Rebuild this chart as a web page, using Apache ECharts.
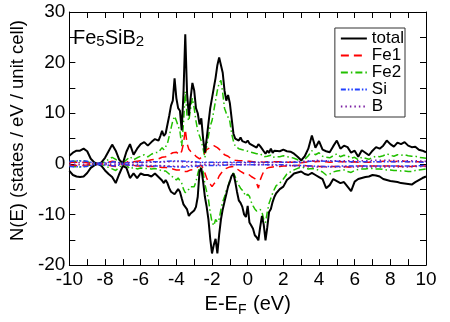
<!DOCTYPE html>
<html lang="en">
  <head>
    <meta charset="UTF-8" />
    <title>Fe5SiB2 DOS</title>
    <script src="https://cdn.jsdelivr.net/npm/echarts@6.0.0/dist/echarts.min.js"></script>
    <style>
      body { margin: 0; background: #fff; }
    </style>
  </head>
  <body>
    <div id="main" style="width: 450px; height: 322px"></div>
    <script>
      // energy grid (eV): 0.2 step outside, 0.1 step in the d-band region
      var energy = [];
      for (let i = 0; i <= 24; i++) energy.push(+(-10 + i * 0.2).toFixed(1));
      for (let i = 0; i <= 66; i++) energy.push(+(-5 + i * 0.1).toFixed(1));
      for (let i = 0; i <= 41; i++) energy.push(+(1.8 + i * 0.2).toFixed(1));

      // coarse grid for the small Si / B contributions
      var energyCoarse = [];
      for (let i = 0; i <= 40; i++) energyCoarse.push(-10 + i * 0.5);

      var totalUp = [
        1.6, 2.2, 2.6, 2.6, 3.0, 2.5, 1.0, 0.3, 0.0, 0.3, 1.2, 2.5, 3.8, 2.6, 0.8, 0.1, 2.4, 3.9, 1.8, 3.0, 3.9, 4.3, 3.6, 4.3, 4.9,
        4.6, 5.5, 6.5, 5.5, 6.0, 5.9, 9.5, 11.5, 12.5, 16.9,
        13, 11, 10.5, 6.6, 14, 25.6, 14, 9.5, 13, 16,
        14.5, 11, 10, 7.8, 9, 5, 2.2, 5, 8, 11,
        13, 15, 17, 19.5, 21, 21.3, 18, 14.5, 12.5, 13.6,
        12, 9, 6, 5, 5.2, 4.6, 5.2, 4.5, 4.8, 4.2,
        4.6, 4.0, 4.3, 3.6, 3.9, 3.2, 3.9, 3.5, 3.0, 2.5,
        2.0, 2.6, 2.2, 3.0, 2.2, 2.6, 2.4,
        2.5, 2.8, 2.5, 2.4, 2.0, 1.4, 0.7, 1.5, 3.0, 5.6,
        3.2, 4.5, 2.8, 2.5, 2.3, 3.5, 4.6, 3.0, 3.6, 3.3,
        2.2, 2.6, 1.4, 2.7, 2.2, 1.7, 2.6, 3.3, 3.0, 3.6,
        4.6, 3.9, 3.4, 4.2, 3.9, 4.3, 3.6, 3.3, 3.4, 2.8,
        2.6, 2.3
      ];
      var totalDown = [
        -1.4, -2.2, -2.5, -2.6, -2.5, -1.8, -0.8, -0.3, 0, -0.4, -1.3, -2.0, -2.6, -3.8, -2.0, -0.4, -0.8, -2.8, -1.9, -2.8, -1.9, -2.2, -2.2, -2.5, -1.9,
        -2.6, -2.8, -3.3, -3.8, -3.2, -3.8, -4.8, -5.5, -5.2, -6.0,
        -5.8, -5.0, -5.5, -6.8, -8.0, -8.5, -9.0, -10.3, -9.8, -9.7,
        -9.2, -8.5, -6.5, -1.5, -0.8, -3.5, -6.5, -8.5, -11, -14.8,
        -17.7, -16, -14.8, -17.7, -14, -11, -9, -7.5, -6, -4.5,
        -3.5, -2.4, -1.9, -3.5, -5.5, -7.2, -7.7, -8.5, -10, -10.5,
        -8.3, -11.6, -12.2, -12.8, -14.1, -14.5, -15.1, -12.5, -10.3, -12,
        -15.1, -12.5, -9.5, -8.9, -7.5, -6.5, -5.8,
        -5.0, -4.5, -3.2, -2.6, -1.9, -1.7, -1.5, -2.0, -2.2, -1.8,
        -2.2, -2.6, -3.0, -4.8, -4.2, -3.0, -3.4, -3.8, -3.6, -4.5,
        -5.4, -3.5, -3.0, -2.8, -2.6, -2.5, -2.2, -2.3, -2.5, -3.0,
        -3.2, -3.4, -3.5, -3.6, -3.8, -3.9, -4.0, -4.1, -3.6, -3.2,
        -2.8, -2.5
      ];

      var fe1Up = [
        0.2, 0.3, 0.3, 0.3, 0.3, 0.2, 0.1, 0.05, 0, 0.05, 0.2, 0.3, 0.5, 0.4, 0.2, 0.05, 0.3, 0.6, 0.4, 0.5, 0.6, 0.7, 0.6, 0.8, 0.9,
        1.0, 1.1, 1.3, 1.2, 1.4, 1.5, 1.8, 2.0, 2.2, 2.5,
        2.3, 2.0, 1.8, 2.5, 4.0, 6.8, 4.0, 2.9, 2.5, 2.2,
        1.9, 1.5, 1.2, 1.0, 1.2, 1.5, 2.2, 2.8, 3.0, 3.2,
        3.4, 3.6, 3.5, 3.2, 3.0, 2.6, 2.2, 1.8, 1.5, 1.5,
        1.2, 0.9, 0.8, 0.7, 0.7, 0.6, 0.6, 0.6, 0.5, 0.5,
        0.6, 0.5, 0.5, 0.4, 0.5, 0.4, 0.5, 0.4, 0.4, 0.3,
        0.3, 0.4, 0.3, 0.4, 0.3, 0.4, 0.3,
        0.4, 0.4, 0.3, 0.3, 0.3, 0.2, 0.2, 0.3, 0.4, 0.6,
        0.4, 0.5, 0.4, 0.4, 0.3, 0.4, 0.5, 0.4, 0.4, 0.4,
        0.3, 0.4, 0.3, 0.4, 0.3, 0.3, 0.4, 0.4, 0.4, 0.5,
        0.5, 0.5, 0.4, 0.5, 0.5, 0.5, 0.4, 0.4, 0.4, 0.4,
        0.4, 0.3
      ];
      var fe1Down = [
        -0.2, -0.3, -0.3, -0.3, -0.3, -0.2, -0.1, -0.05, 0, -0.05, -0.2, -0.3, -0.4, -0.5, -0.3, -0.05, -0.2, -0.4, -0.3, -0.4, -0.4, -0.4, -0.5, -0.5, -0.5,
        -0.6, -0.6, -0.7, -0.8, -0.7, -0.8, -0.9, -1.0, -1.0, -1.1,
        -1.2, -1.1, -1.2, -1.3, -1.5, -1.6, -1.5, -1.4, -1.2, -1.2,
        -1.1, -0.9, -0.6, -0.3, -0.3, -0.8, -1.8, -2.8, -3.6, -4.0,
        -4.5, -4.0, -3.6, -3.2, -2.4, -1.9, -1.5, -1.2, -0.9, -0.7,
        -0.6, -0.5, -0.5, -0.7, -1.0, -1.3, -1.5, -1.7, -1.9, -2.0,
        -1.9, -2.2, -2.5, -2.8, -2.9, -3.8, -4.8, -3.2, -2.3, -1.5,
        -1.0, -0.8, -0.7, -0.6, -0.6, -0.5, -0.5,
        -0.5, -0.4, -0.4, -0.4, -0.3, -0.3, -0.2, -0.3, -0.4, -0.4,
        -0.4, -0.5, -0.5, -0.6, -0.5, -0.5, -0.5, -0.5, -0.5, -0.6,
        -0.6, -0.5, -0.4, -0.4, -0.4, -0.4, -0.4, -0.4, -0.4, -0.4,
        -0.4, -0.4, -0.4, -0.4, -0.5, -0.5, -0.5, -0.5, -0.4, -0.4,
        -0.4, -0.4
      ];

      var fe2Up = [
        0.3, 0.5, 0.5, 0.6, 0.6, 0.4, 0.2, 0.1, 0, 0.1, 0.4, 0.9, 1.3, 0.9, 0.3, 0.1, 0.8, 1.4, 0.8, 1.2, 1.5, 1.8, 1.4, 1.9, 2.2,
        2.3, 2.6, 3.2, 2.8, 3.4, 4.0, 5.5, 7.0, 8.5, 9.4,
        8.5, 7.5, 6.5, 3.5, 8, 14.3, 9.5, 8.5, 11, 13,
        11, 8.5, 6.5, 5.5, 4.5, 3, 1.2, 3.5, 5.5, 7.5,
        8.5, 10.5, 12.5, 14.5, 16, 16.5, 14, 11, 10, 10,
        8.4, 6, 4.5, 3.5, 3.3, 3.0, 3.0, 2.8, 2.9, 2.6,
        2.8, 2.4, 2.5, 2.2, 2.3, 2.0, 2.3, 2.0, 1.8, 1.4,
        1.2, 1.5, 1.3, 1.7, 1.3, 1.5, 1.4,
        1.4, 1.6, 1.4, 1.3, 1.1, 0.8, 0.6, 0.9, 1.6, 2.6,
        1.8, 2.2, 1.5, 1.3, 1.2, 1.6, 2.0, 1.4, 1.7, 1.6,
        1.1, 1.3, 0.8, 1.3, 1.1, 0.9, 1.3, 1.5, 1.4, 1.6,
        2.0, 1.7, 1.5, 1.8, 1.7, 1.8, 1.6, 1.5, 1.5, 1.3,
        1.2, 1.1
      ];
      var fe2Down = [
        -0.3, -0.5, -0.6, -0.6, -0.6, -0.4, -0.2, -0.1, 0, -0.1, -0.4, -0.7, -1.0, -1.3, -0.7, -0.1, -0.3, -1.0, -0.7, -1.0, -0.8, -0.9, -0.9, -1.0, -0.9,
        -1.1, -1.2, -1.4, -1.6, -1.4, -1.6, -2.0, -2.4, -2.4, -2.8,
        -3.2, -2.8, -3.0, -3.8, -5.0, -5.7, -5.5, -5.0, -4.5, -4.8,
        -4.5, -3.5, -2.0, -0.6, -0.3, -1.5, -4.0, -5.5, -7, -9.6,
        -11.5, -12.2, -11, -11.5, -10.9, -9, -7.5, -6.5, -5.2, -4.5,
        -3.2, -2.2, -1.8, -2.5, -3.5, -4.2, -4.8, -5.2, -5.8, -6.4,
        -6.0, -6.4, -7.5, -8.3, -8.9, -9.3, -9.6, -9.0, -9.5, -11.0,
        -11.6, -9.5, -7.8, -6.8, -5.8, -5.0, -4.3,
        -3.8, -3.0, -2.0, -1.6, -1.2, -0.9, -0.6, -0.8, -1.0, -0.9,
        -1.0, -1.3, -1.6, -2.2, -2.0, -1.6, -1.4, -1.3, -1.2, -1.5,
        -1.7, -1.3, -1.1, -1.0, -1.0, -0.9, -0.9, -1.0, -1.0, -1.1,
        -1.2, -1.2, -1.3, -1.3, -1.4, -1.4, -1.5, -1.5, -1.3, -1.2,
        -1.1, -1.0
      ];

      var siUp = [
        0.5, 0.6, 0.5, 0.1, 0.2, 0.4, 0.1, 0.3, 0.3, 0.4,
        0.4, 0.5, 0.6, 0.5, 0.4, 0.3, 0.3, 0.3, 0.3, 0.3,
        0.3, 0.3, 0.3, 0.3, 0.3, 0.3, 0.3, 0.5, 0.6, 0.5,
        0.5, 0.4, 0.4, 0.4, 0.4, 0.4, 0.4, 0.4, 0.4, 0.4,
        0.3
      ];
      var siDown = [
        -0.5, -0.6, -0.5, -0.1, -0.2, -0.4, -0.1, -0.3, -0.3, -0.4,
        -0.4, -0.5, -0.6, -0.6, -0.5, -0.3, -0.3, -0.3, -0.2, -0.2,
        -0.2, -0.2, -0.2, -0.2, -0.2, -0.3, -0.3, -0.4, -0.5, -0.5,
        -0.5, -0.4, -0.4, -0.4, -0.4, -0.4, -0.4, -0.4, -0.4, -0.4,
        -0.3
      ];
      var bUp = [
        0.2, 0.2, 0.2, 0.05, 0.1, 0.2, 0.05, 0.2, 0.2, 0.3,
        0.3, 0.4, 0.5, 0.4, 0.3, 0.2, 0.2, 0.2, 0.2, 0.2,
        0.2, 0.2, 0.2, 0.3, 0.3, 0.4, 0.5, 0.6, 0.7, 0.6,
        0.6, 0.6, 0.6, 0.6, 0.7, 0.7, 0.7, 0.6, 0.6, 0.6,
        0.5
      ];
      var bDown = [
        -0.2, -0.2, -0.2, -0.05, -0.1, -0.2, -0.05, -0.2, -0.2, -0.3,
        -0.3, -0.4, -0.5, -0.4, -0.3, -0.2, -0.2, -0.2, -0.2, -0.2,
        -0.2, -0.2, -0.2, -0.3, -0.3, -0.4, -0.5, -0.6, -0.6, -0.6,
        -0.6, -0.6, -0.6, -0.6, -0.6, -0.6, -0.6, -0.6, -0.6, -0.5,
        -0.5
      ];

      var xTicks = [-10, 10, 2];
      var yTicks = [-20, 30, 10];

      function pairs(xs, ys) {
        return xs.map(function (x, i) { return [x, ys[i]]; });
      }

      function line(name, xs, ys, color, width, type, z) {
        return {
          name: name,
          type: 'line',
          data: pairs(xs, ys),
          symbol: 'none',
          showSymbol: false,
          z: z,
          lineStyle: { color: color, width: width, type: type },
          itemStyle: { color: color },
        };
      }

      var font = 'Liberation Sans, Arial, sans-serif';
      var tickStyle = { inside: true, length: 6, lineStyle: { color: '#000' } };

      function axisBase(min, max, interval, margin) {
        return {
          type: 'value',
          min: min,
          max: max,
          interval: interval,
          axisLine: { show: true, onZero: false, lineStyle: { color: '#000', width: 1 } },
          axisTick: tickStyle,
          minorTick: { show: true, splitNumber: 2, length: 6, lineStyle: { color: '#000' } },
          splitLine: { show: false },
          axisLabel: { color: '#000', fontSize: 19, fontFamily: font, margin: margin },
        };
      }

      var mCharts = echarts.init(document.getElementById('main'));

      var xBottom = Object.assign(axisBase(xTicks[0], xTicks[1], xTicks[2], 5), {
        position: 'bottom',
        name: 'E-E{sub|F} (eV)',
        nameLocation: 'middle',
        nameGap: 20,
        nameTextStyle: {
          color: '#000', fontSize: 20, fontFamily: font,
          rich: { sub: { fontSize: 14, fontFamily: font, color: '#000', padding: [12, 1, 0, 0] } },
        },
      });
      var xTop = Object.assign(axisBase(xTicks[0], xTicks[1], xTicks[2], 5), {
        position: 'top',
        axisLabel: { show: false },
      });
      var yLeft = Object.assign(axisBase(yTicks[0], yTicks[1], yTicks[2], 4), {
        position: 'left',
        name: 'N(E) (states / eV / unit cell)',
        nameLocation: 'middle',
        nameGap: 34,
        nameTextStyle: { color: '#000', fontSize: 18.5, fontFamily: font, padding: [0, 0, 0, 16] },
      });
      var yRight = Object.assign(axisBase(yTicks[0], yTicks[1], yTicks[2], 4), {
        position: 'right',
        axisLabel: { show: false },
      });

      var option = {
        animation: false,
        backgroundColor: '#fff',
        title: {
          text: '{a|Fe}{s|5}{a|SiB}{s|2}',
          left: 73,
          top: 27,
          padding: 0,
          textStyle: {
            rich: {
              a: { fontSize: 20, fontFamily: font, fontWeight: 'normal', color: '#000' },
              s: { fontSize: 15, fontFamily: font, fontWeight: 'normal', color: '#000', padding: [7, 0, 0, 0] },
            },
          },
        },
        legend: {
          data: ['total', 'Fe1', 'Fe2', 'Si', 'B'],
          orient: 'vertical',
          right: 45,
          top: 28,
          itemWidth: 26,
          itemHeight: 14,
          itemGap: 0,
          padding: [2, 1, 2, 5],
          borderColor: '#333',
          borderWidth: 1,
          borderRadius: 0,
          itemStyle: { opacity: 0 },
          textStyle: { color: '#000', fontSize: 17, fontFamily: font, lineHeight: 15.7 },
        },
        grid: { left: 56, right: 24, top: 12, bottom: 52, show: false },
        xAxis: [xBottom, xTop],
        yAxis: [yLeft, yRight],
        series: [
          line('total', energy, totalUp, '#000', 2, 'solid', 5),
          line('total', energy, totalDown, '#000', 2, 'solid', 5),
          line('Fe1', energy, fe1Up, '#ff0000', 1.5, [8, 5], 4),
          line('Fe1', energy, fe1Down, '#ff0000', 1.5, [8, 5], 4),
          line('Fe2', energy, fe2Up, '#22c000', 1.5, [7, 3, 1.5, 3], 3),
          line('Fe2', energy, fe2Down, '#22c000', 1.5, [7, 3, 1.5, 3], 3),
          line('Si', energyCoarse, siUp, '#2040ff', 1.5, [5, 2, 1.5, 2, 1.5, 2], 6),
          line('Si', energyCoarse, siDown, '#2040ff', 1.5, [5, 2, 1.5, 2, 1.5, 2], 6),
          line('B', energyCoarse, bUp, '#7a1fa2', 1.5, [1.5, 3], 6),
          line('B', energyCoarse, bDown, '#7a1fa2', 1.5, [1.5, 3], 6),
        ],
      };

      mCharts.setOption(option);
    </script>
  </body>
</html>
